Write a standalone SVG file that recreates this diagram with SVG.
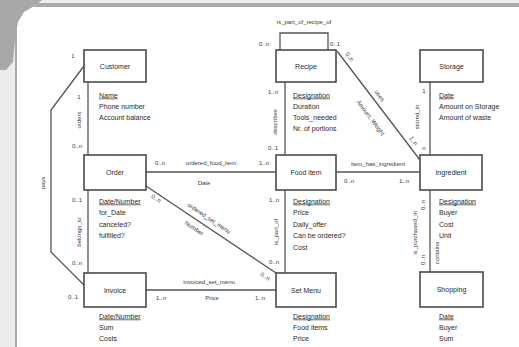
<svg xmlns="http://www.w3.org/2000/svg" width="519" height="347" viewBox="0 0 519 347">
<style>
.box{fill:#fff;stroke:#4a4a4a;stroke-width:1.6}
.conn{fill:none;stroke:#555;stroke-width:1.3}
.name{font-family:"Liberation Sans",Arial,sans-serif;font-size:7px;fill:#2a2a2a;text-anchor:middle}
.attr{font-family:"Liberation Sans",Arial,sans-serif;font-size:7px;fill:#2a2a2a}
.key{text-decoration:underline}
.lab{font-family:"Liberation Sans",Arial,sans-serif;font-size:6px;fill:#3a3a3a;text-anchor:middle}
.mult{font-family:"Liberation Sans",Arial,sans-serif;font-size:6px;fill:#3a3a3a;text-anchor:middle}
</style>
<rect x="0" y="0" width="519" height="347" fill="#ededed"/>
<rect x="17" y="6" width="502" height="341" fill="#fff"/>
<rect x="17" y="3" width="502" height="4" fill="#aaa"/>
<line x1="16" y1="5" x2="16" y2="347" stroke="#aaa" stroke-width="2"/>
<path d="M0,0 L42,0 L36,5 L24,12 L18,22 L15,40 L13,62 L6,70 L0,70 Z" fill="#a8a8a8"/>

<g id="connectors">
  <line class="conn" x1="88" y1="82" x2="88" y2="155"/>
  <line class="conn" x1="88" y1="190" x2="88" y2="273"/>
  <polyline class="conn" points="84,66 51,110 51,252 84,285"/>
  <line class="conn" x1="146" y1="172" x2="276" y2="172"/>
  <line class="conn" x1="146" y1="186" x2="276" y2="273"/>
  <line class="conn" x1="146" y1="290" x2="276" y2="290"/>
  <line class="conn" x1="285" y1="82" x2="285" y2="155"/>
  <line class="conn" x1="285" y1="190" x2="285" y2="273"/>
  <polyline class="conn" points="280,50 280,33 328,33 328,50"/>
  <line class="conn" x1="337" y1="51" x2="420" y2="160"/>
  <line class="conn" x1="336" y1="172" x2="420" y2="172"/>
  <line class="conn" x1="430" y1="82" x2="430" y2="155"/>
  <line class="conn" x1="430" y1="190" x2="430" y2="272"/>

  <text class="lab" x="304" y="24">is_part_of_recipe_of</text>
  <text class="mult" x="264" y="46">0..n</text>
  <text class="mult" x="335" y="46">0..1</text>

  <text class="mult" x="79" y="99">1</text>
  <text class="lab" transform="translate(81,120) rotate(-90)">orders</text>
  <text class="mult" x="77" y="148">0..n</text>

  <text class="mult" x="77" y="202">0..1</text>
  <text class="lab" transform="translate(81,232) rotate(-90)">belongs_to</text>
  <text class="mult" x="77" y="265">0..n</text>

  <text class="mult" x="73" y="58">1</text>
  <text class="lab" transform="translate(45,183) rotate(-90)">pays</text>
  <text class="mult" x="73" y="299">0..1</text>

  <text class="mult" x="160" y="165">0..n</text>
  <text class="lab" x="211" y="165">ordered_food_item</text>
  <text class="mult" x="264" y="165">1..n</text>
  <text class="lab" x="204" y="185">Date</text>

  <text class="mult" transform="translate(155,200) rotate(33.8)">0..n</text>
  <text class="lab" transform="translate(208,220) rotate(33.8)">ordered_set_menu</text>
  <text class="lab" transform="translate(193,230) rotate(33.8)">Number</text>
  <text class="mult" transform="translate(264,278) rotate(33.8)">0..n</text>

  <text class="mult" x="161" y="300">1..n</text>
  <text class="lab" x="209" y="284">invoiced_set_menu</text>
  <text class="lab" x="212" y="300">Price</text>
  <text class="mult" x="260" y="300">1..n</text>

  <text class="mult" x="273" y="94">1..n</text>
  <text class="lab" transform="translate(277,122) rotate(-90)">describes</text>
  <text class="mult" x="273" y="150">0..1</text>

  <text class="mult" x="274" y="202">1..n</text>
  <text class="lab" transform="translate(278,232) rotate(-90)">is_part_of</text>
  <text class="mult" x="274" y="264">0..n</text>

  <text class="mult" transform="translate(348,58) rotate(53)">0..n</text>
  <text class="lab" transform="translate(378,97) rotate(53)">uses</text>
  <text class="lab" transform="translate(369,119) rotate(53)">Amount, Weight</text>
  <text class="mult" transform="translate(412,142) rotate(53)">1..n</text>

  <text class="mult" x="349" y="183">0..n</text>
  <text class="lab" x="378" y="166">item_has_ingredient</text>
  <text class="mult" x="404" y="183">1..n</text>

  <text class="mult" x="424" y="93">1</text>
  <text class="lab" transform="translate(419,117) rotate(-90)">stored_in</text>
  <text class="mult" x="424" y="150">n</text>

  <text class="mult" transform="translate(425,205) rotate(-90)">0..n</text>
  <text class="lab" transform="translate(417,233) rotate(-90)">is_purchased_in</text>
  <text class="lab" transform="translate(439,253) rotate(-90)">contains</text>
  <text class="mult" transform="translate(425,260) rotate(-90)">0..n</text>
</g>

<g id="customer">
  <rect class="box" x="84" y="50" width="62" height="32"/>
  <text class="name" x="115" y="68.5">Customer</text>
  <text class="attr key" x="99" y="97.5">Name</text>
  <text class="attr" x="99" y="108.5">Phone number</text>
  <text class="attr" x="99" y="119.5">Account balance</text>
</g>
<g id="recipe">
  <rect class="box" x="276" y="50" width="60" height="32"/>
  <text class="name" x="306" y="68.5">Recipe</text>
  <text class="attr key" x="293" y="97.5">Designation</text>
  <text class="attr" x="293" y="108.5">Duration</text>
  <text class="attr" x="293" y="119.5">Tools_needed</text>
  <text class="attr" x="293" y="130.5">Nr. of portions</text>
</g>
<g id="storage">
  <rect class="box" x="420" y="50" width="63" height="32"/>
  <text class="name" x="451.5" y="68.5">Storage</text>
  <text class="attr key" x="439" y="97.5">Date</text>
  <text class="attr" x="439" y="108.5">Amount on Storage</text>
  <text class="attr" x="439" y="119.5">Amount of waste</text>
</g>
<g id="order">
  <rect class="box" x="84" y="155" width="62" height="35"/>
  <text class="name" x="115" y="175">Order</text>
  <text class="attr key" x="99" y="203.5">Date/Number</text>
  <text class="attr" x="99" y="215">for_Date</text>
  <text class="attr" x="99" y="226.5">canceled?</text>
  <text class="attr" x="99" y="238">fulfilled?</text>
</g>
<g id="food-item">
  <rect class="box" x="276" y="155" width="60" height="35"/>
  <text class="name" x="306" y="175">Food item</text>
  <text class="attr key" x="293" y="203.5">Designation</text>
  <text class="attr" x="293" y="215">Price</text>
  <text class="attr" x="293" y="226.5">Daily_offer</text>
  <text class="attr" x="293" y="238">Can be ordered?</text>
  <text class="attr" x="293" y="249.5">Cost</text>
</g>
<g id="ingredient">
  <rect class="box" x="420" y="155" width="62" height="35"/>
  <text class="name" x="451" y="175">Ingredient</text>
  <text class="attr key" x="439" y="203.5">Designation</text>
  <text class="attr" x="439" y="215">Buyer</text>
  <text class="attr" x="439" y="226.5">Cost</text>
  <text class="attr" x="439" y="238">Unit</text>
</g>
<g id="invoice">
  <rect class="box" x="84" y="273" width="62" height="34"/>
  <text class="name" x="115" y="292.5">Invoice</text>
  <text class="attr key" x="99" y="318.5">Date/Number</text>
  <text class="attr" x="99" y="329.5">Sum</text>
  <text class="attr" x="99" y="340.5">Costs</text>
</g>
<g id="set-menu">
  <rect class="box" x="276" y="273" width="60" height="34"/>
  <text class="name" x="306" y="292.5">Set Menu</text>
  <text class="attr key" x="293" y="318.5">Designation</text>
  <text class="attr" x="293" y="329.5">Food items</text>
  <text class="attr" x="293" y="340.5">Price</text>
</g>
<g id="shopping">
  <rect class="box" x="420" y="272" width="63" height="35"/>
  <text class="name" x="451.5" y="292">Shopping</text>
  <text class="attr key" x="439" y="318.5">Date</text>
  <text class="attr" x="439" y="329.5">Buyer</text>
  <text class="attr" x="439" y="340.5">Sum</text>
</g>
</svg>
